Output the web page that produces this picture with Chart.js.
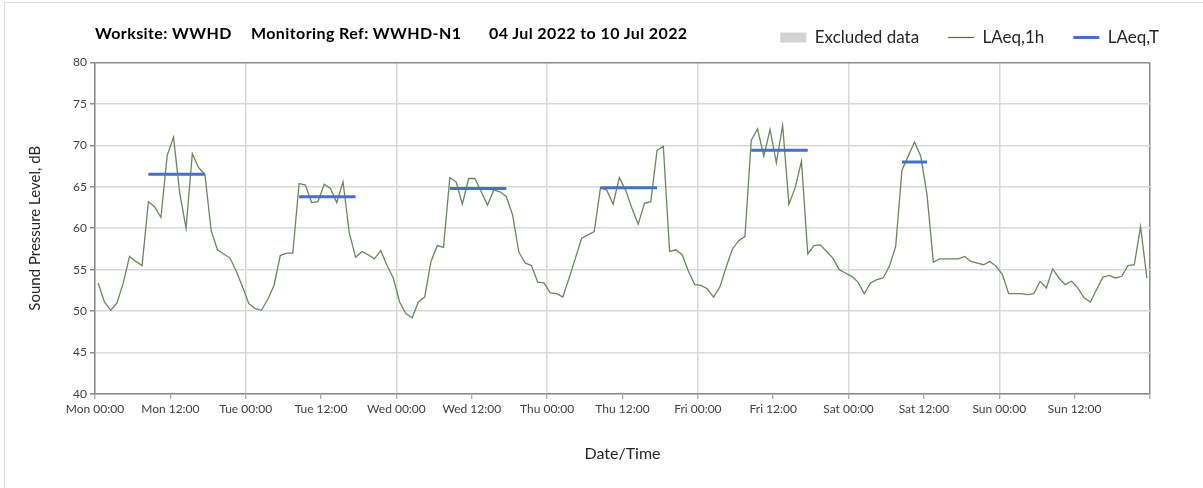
<!DOCTYPE html>
<html>
<head>
<meta charset="utf-8">
<script src="https://cdn.jsdelivr.net/npm/chart.js@4.4.0/dist/chart.umd.min.js"></script>
<style>
  html, body { margin: 0; padding: 0; background: #fff; }
  #wrap { position: relative; width: 1203px; height: 488px; overflow: hidden; }
  #frame { position: absolute; left: 4px; top: 2px; right: -4px; bottom: -4px; border: 1px solid #d9d9d9; }
  canvas { position: absolute; left: 0; top: 0; }
  .ttl { position: absolute; top: 23px; font: bold 16px Lato, sans-serif; letter-spacing: 0.4px; color: #000; white-space: nowrap; }
</style>
</head>
<body>
<div id="wrap">
  <div id="frame"></div>
  <canvas id="noise-chart" width="1203" height="488"></canvas>
  <div class="ttl" style="left:95px">Worksite: WWHD</div>
  <div class="ttl" style="left:251px">Monitoring Ref: WWHD-N1</div>
  <div class="ttl" style="left:489px">04 Jul 2022 to 10 Jul 2022</div>
</div>
<script>
// hourly LAeq,1h, Mon 00:00 .. Sun 23:00
const hourlyLevels = [
  53.4, 51.1, 50.1, 51.0, 53.4, 56.6, 56.0, 55.5, 63.2, 62.6, 61.3, 68.8,
  71.0, 64.2, 60.0, 69.0, 67.3, 66.5, 59.7, 57.4, 56.9, 56.4, 54.8, 52.9,
  50.9, 50.3, 50.1, 51.4, 53.1, 56.7, 57.0, 57.0, 65.4, 65.2, 63.1, 63.2,
  65.3, 64.8, 63.1, 65.6, 59.4, 56.5, 57.2, 56.8, 56.3, 57.3, 55.5, 54.0,
  51.1, 49.7, 49.2, 51.1, 51.7, 56.0, 57.9, 57.7, 66.1, 65.6, 62.9, 66.0,
  66.0, 64.4, 62.8, 64.6, 64.4, 63.8, 61.6, 57.1, 55.8, 55.5, 53.5, 53.4,
  52.2, 52.1, 51.7, 54.0, 56.4, 58.8, 59.2, 59.6, 64.9, 64.6, 62.9, 66.1,
  64.6, 62.4, 60.5, 63.0, 63.2, 69.4, 69.9, 57.2, 57.4, 56.8, 54.8, 53.2,
  53.1, 52.7, 51.7, 52.9, 55.3, 57.5, 58.5, 59.0, 70.6, 72.0, 68.7, 71.9,
  67.9, 72.4, 62.9, 64.9, 68.1, 56.9, 57.9, 58.0, 57.2, 56.4, 55.0, 54.6,
  54.2, 53.5, 52.1, 53.4, 53.8, 54.0, 55.4, 57.8, 67.0, 68.7, 70.4, 68.7,
  64.0, 55.9, 56.3, 56.3, 56.3, 56.3, 56.6, 56.0, 55.8, 55.6, 56.0, 55.4,
  54.4, 52.1, 52.1, 52.1, 52.0, 52.1, 53.6, 52.8, 55.1, 54.0, 53.2, 53.6,
  52.8, 51.6, 51.1, 52.6, 54.1, 54.3, 54.0, 54.2, 55.5, 55.6, 60.2, 54.0
];

// LAeq,T periods (first and last hour index of each)
const periodStart = [8, 32, 56, 80, 104, 128];
const periodEnd = [17, 41, 65, 89, 113, 132];
const periodLevels = [66.5, 63.8, 64.8, 64.9, 69.4, 68.0];

const tickLabels = [
  'Mon 00:00', 'Mon 12:00', 'Tue 00:00', 'Tue 12:00', 'Wed 00:00', 'Wed 12:00',
  'Thu 00:00', 'Thu 12:00', 'Fri 00:00', 'Fri 12:00', 'Sat 00:00', 'Sat 12:00',
  'Sun 00:00', 'Sun 12:00'
];

const hourlyPoints = hourlyLevels.map((v, i) => ({ x: i + 0.5, y: v }));

const periodPoints = [];
periodLevels.forEach((lvl, k) => {
  periodPoints.push({ x: periodStart[k] + 0.5, y: lvl });
  periodPoints.push({ x: periodEnd[k] + 0.5, y: lvl });
  periodPoints.push({ x: periodEnd[k] + 1, y: null });
});

Chart.defaults.font.family = 'Lato, sans-serif';
Chart.defaults.color = '#333';

const axisGrey = '#8c8c8c';
const gridGrey = '#d9d9d9';

new Chart(document.getElementById('noise-chart'), {
  type: 'line',
  data: {
    datasets: [
      {
        label: 'Excluded data',
        data: [],
        backgroundColor: '#d3d3d3',
        borderColor: '#d3d3d3',
        borderWidth: 0,
        pointStyle: 'rect',
        pointBorderWidth: 0,
        order: 0
      },
      {
        label: 'LAeq,1h',
        data: hourlyPoints,
        borderColor: '#6a875c',
        backgroundColor: '#6a875c',
        borderWidth: 1.3,
        pointRadius: 0,
        pointStyle: 'line',
        pointBorderWidth: 1.2,
        pointBorderColor: '#4f6a3c',
        tension: 0,
        order: 2
      },
      {
        label: 'LAeq,T',
        data: periodPoints,
        borderColor: '#4472c4',
        backgroundColor: '#4472c4',
        borderWidth: 3,
        pointRadius: 0,
        pointStyle: 'line',
        pointBorderWidth: 3,
        spanGaps: false,
        order: 1
      }
    ]
  },
  options: {
    responsive: false,
    animation: false,
    layout: { padding: { top: 0, right: 15, bottom: 0, left: 0 } },
    plugins: {
      tooltip: { enabled: false },
      legend: {
        position: 'top',
        align: 'end',
        labels: {
          usePointStyle: true,
          pointStyleWidth: 26,
          boxHeight: 10,
          padding: 29,
          color: '#262626',
          font: { size: 17 },
          sort: (a, b) => a.datasetIndex - b.datasetIndex
        }
      },
      // empty spacer under the legend row
      subtitle: { display: true, text: '', weight: 500, padding: 0, font: { size: 5.4 } }
    },
    scales: {
      x: {
        type: 'linear',
        min: 0,
        max: 168,
        offset: false,
        afterFit: s => { s.height = 94; },
        ticks: {
          stepSize: 12,
          autoSkip: false,
          maxRotation: 0,
          minRotation: 0,
          padding: 3,
          color: '#404040',
          font: { size: 12 },
          callback: v => tickLabels[v / 12] || ''
        },
        grid: {
          offset: false,
          lineWidth: 1.5,
          color: c => {
            const v = c.tick ? c.tick.value : 0;
            if (v === 168) return axisGrey;
            return v % 24 === 0 ? gridGrey : 'rgba(0,0,0,0)';
          },
          tickColor: axisGrey,
          tickLength: 5,
          tickWidth: 1
        },
        border: { color: axisGrey, width: 1.5 },
        title: {
          display: true,
          text: 'Date/Time',
          color: '#262626',
          font: { size: 16 },
          padding: { top: 0, bottom: 25 }
        }
      },
      y: {
        min: 40,
        max: 80,
        afterFit: s => { s.width = 95; },
        ticks: { stepSize: 5, padding: 3, color: '#404040', font: { size: 12 } },
        grid: {
          lineWidth: 1.5,
          color: c => (c.tick && c.tick.value === 80 ? axisGrey : gridGrey),
          tickColor: axisGrey,
          tickLength: 5
        },
        border: { color: axisGrey, width: 1.5 },
        title: {
          display: true,
          text: 'Sound Pressure Level, dB',
          color: '#262626',
          font: { size: 15 },
          padding: { top: 26, bottom: 0 }
        }
      },
      // keeps the plot's right edge clear of the legend's right edge
      yRight: {
        type: 'linear',
        position: 'right',
        grid: { display: false },
        ticks: { display: false },
        border: { display: false },
        afterFit: s => { s.width = 38; }
      }
    }
  }
});
</script>
</body>
</html>
